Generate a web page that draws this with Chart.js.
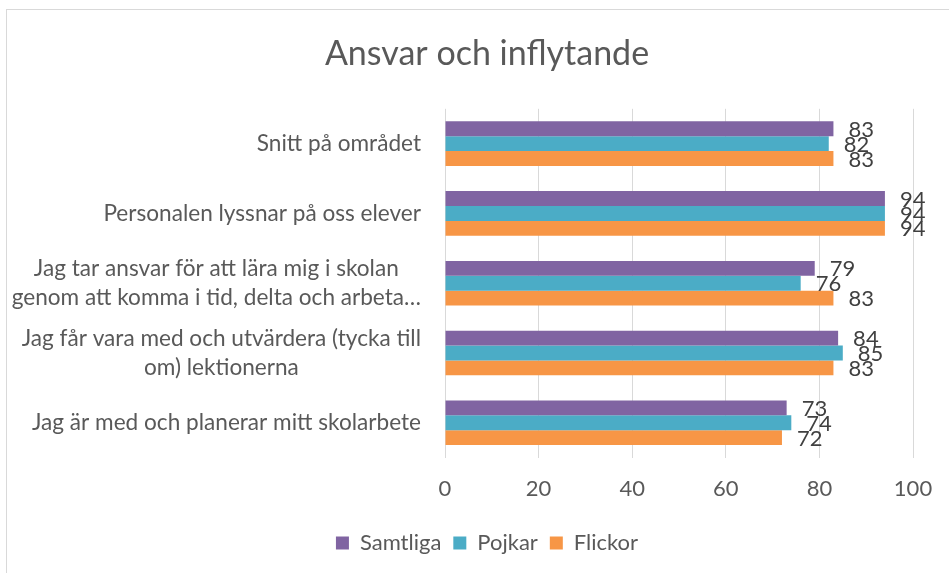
<!DOCTYPE html>
<html>
<head>
<meta charset="utf-8">
<script src="https://cdn.jsdelivr.net/npm/chart.js@4"></script>
<style>
  html, body { margin: 0; padding: 0; background: #fff; overflow: hidden; }
  #wrap { position: absolute; left: 6px; top: 9px; width: 960px; height: 580px; border: 1px solid #d9d9d9; }
</style>
</head>
<body>
<div id="wrap"><canvas id="chart" width="960" height="580"></canvas></div>
<script>
const categories = [
    'Snitt på området',
    'Personalen lyssnar på oss elever',
    ['Jag tar ansvar för att lära mig i skolan', 'genom att komma i tid, delta och arbeta…'],
    ['Jag får vara med och utvärdera (tycka till', 'om) lektionerna'],
    'Jag är med och planerar mitt skolarbete'
];
const samtliga = [83, 94, 79, 84, 73];
const pojkar = [82, 94, 76, 85, 74];
const flickor = [83, 94, 83, 83, 72];
const xTicks = [0, 20, 40, 60, 80, 100];

const FONT = "Lato, 'Liberation Sans', sans-serif";
const TEXT = '#595959';

// värden till höger om staplarna
const valueLabels = {
    id: 'valueLabels',
    afterDatasetsDraw(chart) {
        const ctx = chart.ctx;
        ctx.save();
        ctx.font = '22px ' + FONT;
        ctx.fillStyle = '#404040';
        ctx.textAlign = 'left';
        ctx.textBaseline = 'middle';
        chart.data.datasets.forEach((ds, i) => {
            chart.getDatasetMeta(i).data.forEach((bar, j) => {
                ctx.fillText(ds.data[j], bar.x + 15, bar.y + 1);
            });
        });
        ctx.restore();
    }
};

// kategorietiketter, centrerade rad för rad som i Excel
const categoryLabels = {
    id: 'categoryLabels',
    afterDraw(chart) {
        const ctx = chart.ctx;
        const y = chart.scales.y;
        const right = 414;
        const lineH = 29;
        ctx.save();
        ctx.font = '22.6px ' + FONT;
        ctx.fillStyle = TEXT;
        ctx.textAlign = 'center';
        ctx.textBaseline = 'middle';
        categories.forEach((lab, i) => {
            const lines = Array.isArray(lab) ? lab : [lab];
            const w = Math.max(...lines.map(l => ctx.measureText(l).width));
            const cx = right - w / 2;
            const cy = y.getPixelForValue(i);
            lines.forEach((l, k) => {
                ctx.fillText(l, cx, cy + (k - (lines.length - 1) / 2) * lineH);
            });
        });
        ctx.restore();
    }
};

// titel och legend centreras över hela ramen, inte bara till vänster om höger-paddingen
const shiftBoxes = {
    id: 'shiftBoxes',
    afterLayout(chart) {
        [chart.legend, chart.titleBlock].forEach(b => {
            b.left += 27;
            b.right += 27;
        });
    }
};

new Chart(document.getElementById('chart'), {
    type: 'bar',
    data: {
        labels: categories,
        datasets: [
            { label: 'Samtliga', data: samtliga, backgroundColor: '#8064A2' },
            { label: 'Pojkar', data: pojkar, backgroundColor: '#4BACC6' },
            { label: 'Flickor', data: flickor, backgroundColor: '#F79646' }
        ]
    },
    options: {
        indexAxis: 'y',
        responsive: false,
        animation: false,
        categoryPercentage: 0.64,
        barPercentage: 1,
        layout: { padding: { left: 0, right: 54, top: 0, bottom: 26 } },
        plugins: {
            title: {
                display: true,
                text: 'Ansvar och inflytande',
                color: TEXT,
                font: { family: FONT, size: 34, weight: 'normal' },
                padding: { top: 24, bottom: 34 }
            },
            legend: {
                position: 'bottom',
                labels: {
                    color: TEXT,
                    font: { family: FONT, size: 22 },
                    boxWidth: 13,
                    boxHeight: 13,
                    padding: 12
                }
            },
            tooltip: { enabled: false }
        },
        scales: {
            x: {
                min: 0, max: 100,
                afterBuildTicks: s => { s.ticks = xTicks.map(v => ({ value: v })); },
                grid: { color: '#d9d9d9', drawTicks: false },
                border: { display: false },
                ticks: { color: TEXT, font: { family: FONT, size: 22 }, padding: 18 }
            },
            y: {
                grid: { display: false },
                border: { display: false },
                ticks: { display: false },
                afterFit: s => { s.width = 438; }
            }
        }
    },
    plugins: [valueLabels, categoryLabels, shiftBoxes]
});
</script>
</body>
</html>
